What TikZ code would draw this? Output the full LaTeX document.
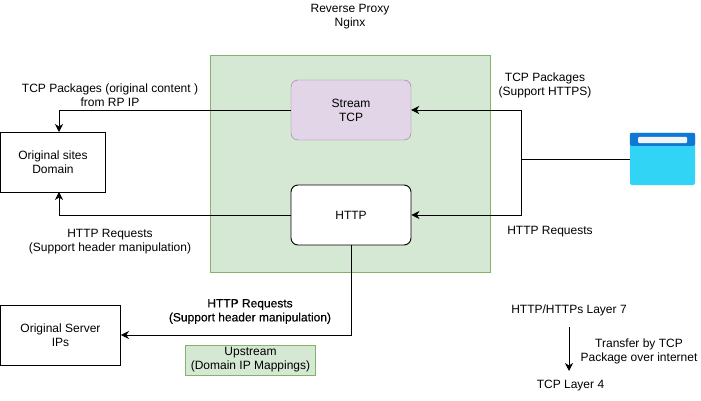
\documentclass[tikz,border=0pt]{standalone}
\usepackage{fontspec}
\setmainfont{Liberation Sans}
\usetikzlibrary{positioning,arrows.meta}
\definecolor{proxy-green}{HTML}{D5E8D4}
\definecolor{proxy-line}{HTML}{82B366}
\definecolor{stream-purple}{HTML}{E1D5E7}
\definecolor{stream-line}{HTML}{9673A6}
\definecolor{browser-blue}{HTML}{32D4F5}
\definecolor{browser-dark}{HTML}{0F78D4}
\definecolor{browser-bar}{HTML}{F0F4F8}
\tikzset{
  label-text/.style={font=\fontsize{12}{14}\selectfont, align=center, inner sep=0pt},
  free-text/.style={label-text, yshift=-1.5pt},
  site-box/.style={draw, fill=white, line width=0.9pt, label-text},
  conn/.style={-{Stealth[length=8pt,width=8pt,inset=2.5pt]}, line width=0.9pt},
  plain-conn/.style={line width=0.9pt},
}
\begin{document}
\begin{tikzpicture}[x=1pt,y=-1pt]
    \useasboundingbox (0,0) rectangle (701,401);
    \node[draw=proxy-line, fill=proxy-green, minimum width=280pt, minimum height=217pt, inner sep=0pt] (proxy) at (350.5,163.5) {};
    \node[free-text] (proxytitle) at (350,15.5) {Reverse Proxy\\Nginx};
    \node[draw=stream-line, fill=stream-purple, rounded corners=7pt, minimum width=120pt, minimum height=60pt, label-text] (stream) at (351,110) {Stream\\TCP};
    \node[site-box, rounded corners=7pt, minimum width=120pt, minimum height=60pt] (http) at (351,215) {HTTP};
    \node[site-box, minimum width=105pt, minimum height=60pt] (sites) at (53,162) {Original sites\\Domain};
    \node[site-box, minimum width=120pt, minimum height=60pt] (server) at (60.5,335) {Original Server\\IPs};
    \node[draw=proxy-line, fill=proxy-green, minimum width=130pt, minimum height=30pt, label-text] (upstream) at (250.5,360) {Upstream\\(Domain IP Mappings)};
    % browser icon
    \node[fill=browser-blue, rounded corners=2pt, minimum width=65pt, minimum height=52pt, inner sep=0pt] (browser) at (662.5,159) {};
    \fill[browser-dark, rounded corners=2pt] (browser.north west) rectangle ([yshift=-13pt]browser.north east);
    \fill[browser-bar, rounded corners=1pt] (638,137) rectangle (687,143);
    \coordinate (join) at (521,159);
    \coordinate (upper) at (521,110);
    \coordinate (lower) at (521,215);
    \coordinate (sitestop) at (59,132);
    \coordinate (sitesbot) at (59,192);
    \coordinate (elbow) at (351,335);
    \draw[plain-conn] (browser.west) -- (join);
    \draw[conn] (join) -- (upper) -- (stream.east);
    \draw[conn] (join) -- (lower) -- (http.east);
    \draw[conn] (stream.west) -| (sitestop);
    \draw[conn] (http.west) -| (sitesbot);
    \draw[conn] (http.south) -- (elbow) -- (server.east);
    \node[free-text] (tcpright) at (545,84) {TCP Packages\\(Support HTTPS)};
    \node[free-text] (httpright) at (550,230) {HTTP Requests};
    \node[free-text] (tcpleft) at (110,94) {TCP Packages (original content )\\from RP IP};
    \node[free-text] (httpleft) at (110,240) {HTTP Requests\\(Support header manipulation)};
    \node[free-text, font=\fontsize{12}{14}\selectfont\addfontfeature{FakeBold=0.4}] (httpbold) at (250,310) {HTTP Requests\\(Support header manipulation)};
    \node[free-text] (layerseven) at (569,309) {HTTP/HTTPs Layer 7};
    \node[free-text] (layerfour) at (570.5,384) {TCP Layer 4};
    \node[free-text] (transfer) at (639,350) {Transfer by TCP\\Package over internet};
    \draw[conn] (layerseven.south |- 0,327) -- (layerseven.south |- 0,371);
\end{tikzpicture}
\end{document}
